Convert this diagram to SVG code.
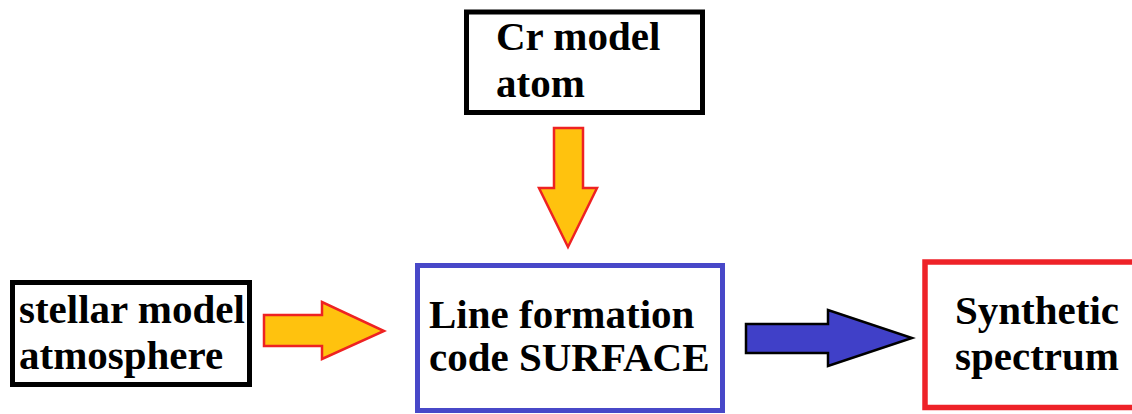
<svg xmlns="http://www.w3.org/2000/svg" width="1132" height="414" viewBox="0 0 1132 414">
<style>
.t{font-family:"Liberation Serif","Times New Roman",serif;font-weight:bold;font-size:41px;fill:#000}
.bk{fill:#fff;stroke:#000;stroke-width:5}
.ya{fill:#FFC20E;stroke:#EE2222;stroke-width:2.5;stroke-linejoin:miter}
.ba{fill:#4040C8;stroke:#000;stroke-width:2.5}
</style>
<rect width="1132" height="414" fill="#fff"/>
<g id="cr-atom">
<rect class="bk" x="466.5" y="12" width="236" height="100.5"/>
<text class="t" x="496" y="50">Cr model</text>
<text class="t" x="496" y="97">atom</text>
</g>
<g id="stellar-atmosphere">
<rect class="bk" x="12.5" y="282.5" width="237" height="102"/>
<text class="t" x="19" y="323">stellar model</text>
<text class="t" x="19" y="369">atmosphere</text>
</g>
<g id="surface">
<rect x="417.5" y="265.5" width="305" height="145" fill="#fff" stroke="#4848C8" stroke-width="5"/>
<text class="t" x="429" y="328">Line formation</text>
<text class="t" x="429" y="371">code SURFACE</text>
</g>
<g id="synthetic-spectrum">
<rect x="925" y="262" width="220" height="145.5" fill="#fff" stroke="#EE2228" stroke-width="5.5"/>
<text class="t" x="955" y="324">Synthetic</text>
<text class="t" x="955" y="370">spectrum</text>
</g>
<g id="connectors">
<polygon class="ya" points="554,128 583,128 583,188 597,188 568,247 539,188 554,188"/>
<polygon class="ya" points="264,315 322,315 322,302 384,331 322,359 322,346 264,346"/>
<polygon class="ba" points="746,324 828,324 828,310 912,338 828,366 828,353 746,353"/>
</g>
</svg>
